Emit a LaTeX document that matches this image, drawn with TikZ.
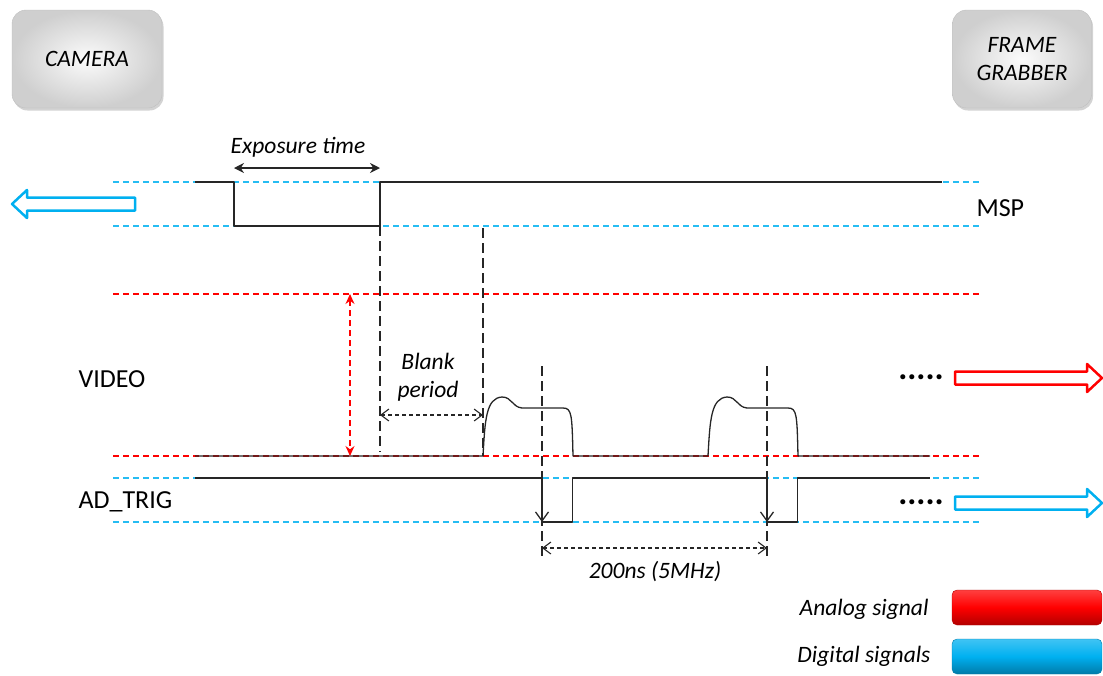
\documentclass[tikz,border=0pt]{standalone}
\usepackage{fontspec}
\setmainfont{Carlito}
\usepackage{tikz}
\usetikzlibrary{calc, arrows.meta, positioning, shadows}
\definecolor{digital}{RGB}{0,176,240}
\definecolor{analog}{RGB}{255,0,0}
\tikzset{
  sig/.style={black!85, line width=1.3pt},
  dlevel/.style={digital!85, dash pattern=on 6pt off 4pt, line width=1.3pt},
  alevel/.style={analog, dash pattern=on 6pt off 4pt, line width=1.1pt},
  guide/.style={black!85, dash pattern=on 10pt off 5pt, line width=1.1pt},
  dim/.style={black!85, dash pattern=on 4pt off 3pt, line width=1.1pt,
    {Straight Barb[length=8pt,width=12pt]}-{Straight Barb[length=8pt,width=12pt]}},
  device/.style={minimum width=150pt, minimum height=98pt, rounded corners=14pt,
    draw=gray!50, inner color=gray!3, outer color=gray!38,
    drop shadow={opacity=0.35, shadow xshift=1.5pt, shadow yshift=-2.5pt},
    font=\itshape\fontsize{23.5}{28}\selectfont},
  signame/.style={font=\fontsize{26}{30}\selectfont},
  note/.style={font=\itshape\fontsize{23.5}{28}\selectfont},
  dots/.style={font=\bfseries\fontsize{34}{34}\selectfont},
  bar/.style={minimum width=150pt, minimum height=35pt, rounded corners=5pt,
    draw=#1!70!black, top color=#1!75!white, bottom color=#1!70!black, middle color=#1},
  pics/hollow/.style={code={
    \draw[line width=2.5pt] (0,-6.5) -- (#1-15,-6.5) -- (#1-15,-14) -- (#1,0)
      -- (#1-15,14) -- (#1-15,6.5) -- (0,6.5) -- cycle;}}
}
\begin{document}
\begin{tikzpicture}[x=1pt, y=-1pt, line join=round]
\useasboundingbox (0,0) rectangle (1103,675);

\node[device] (camera) at (87,59) {CAMERA};
\node[device, minimum width=139pt, align=center] (grabber) at (1022,59) {FRAME\\GRABBER};

% MSP
\draw[dlevel] (113,182) -- (980,182);
\draw[dlevel] (113,226) -- (980,226);
\draw[sig] (195,182) -- (234,182) -- (234,226) -- (380,226) -- (380,182) -- (942,182);
\node[signame, anchor=west] (msp) at (973,208) {MSP};
\pic[digital, xscale=-1] at (135,204) {hollow=123};

\coordinate (expL) at (234,168);
\coordinate (expR) at (380,168);
\draw[black!85, line width=1.2pt, {Stealth[length=10pt,width=10pt]}-{Stealth[length=10pt,width=10pt]}] (expL) -- (expR);
\node[note] (exptext) at (298,147) {Exposure time};

% VIDEO
\draw[alevel] (113,294) -- (980,294);
\draw[alevel] (113,456) -- (980,456);
\draw[sig] (195,456) foreach \s in {483,708} { -- (\s,456)
  .. controls (\s+2,420) and (\s+3,398) .. (\s+19,397)
  .. controls (\s+29,397) and (\s+29,407) .. (\s+39,408) -- (\s+80,408)
  .. controls (\s+89,408) and (\s+89,415) .. (\s+90,456) } -- (930,456);
\node[signame, anchor=west] (video) at (75,379) {VIDEO};
\node[dots] (morevideo) at (921,377) {.....};
\pic[analog] at (955,378) {hollow=147};

\coordinate (ampT) at (350,294);
\coordinate (ampB) at (350,456);
\draw[alevel, {Stealth[length=10pt,width=9pt]}-{Stealth[length=10pt,width=9pt]}] (ampT) -- (ampB);

% AD_TRIG
\draw[dlevel] (113,478) -- (980,478);
\draw[dlevel] (113,522) -- (980,522);
\draw[sig] (195,478) foreach \s in {542,767} { -- (\s,478) -- (\s,522) -- (\s+30.5,522) -- (\s+30.5,478) } -- (930,478);
\foreach \s in {542,767}
  \draw[sig, -{Straight Barb[length=9pt,width=13pt]}] (\s,478) -- (\s,522);
\node[signame, anchor=west] (adtrig) at (75,502) {AD\_TRIG};
\node[dots] (moretrig) at (921,502) {.....};
\pic[digital] at (955,503) {hollow=147};

% timing marks
\draw[guide] (380,226) -- (380,452);
\draw[guide] (483,228) -- (483,456);
\draw[guide] (542,366) -- (542,558);
\draw[guide] (767,366) -- (767,558);

\coordinate (blankL) at (380,415);
\coordinate (blankR) at (483,415);
\draw[dim] (blankL) -- (blankR);
\node[note, align=center] (blanktext) at (428,377) {Blank\\period};

\coordinate (perL) at (542,548);
\coordinate (perR) at (767,548);
\draw[dim] (perL) -- (perR);
\node[note] (pertext) at (655,572) {200ns (5MHz)};

% legend
\node[note, anchor=east] (analogtext) at (932,609) {Analog signal};
\node[bar=analog] (analogbar) at (1027,607.5) {};
\node[note, anchor=east] (digitaltext) at (934,656) {Digital signals};
\node[bar=digital] (digitalbar) at (1027,656.5) {};
\end{tikzpicture}
\end{document}
